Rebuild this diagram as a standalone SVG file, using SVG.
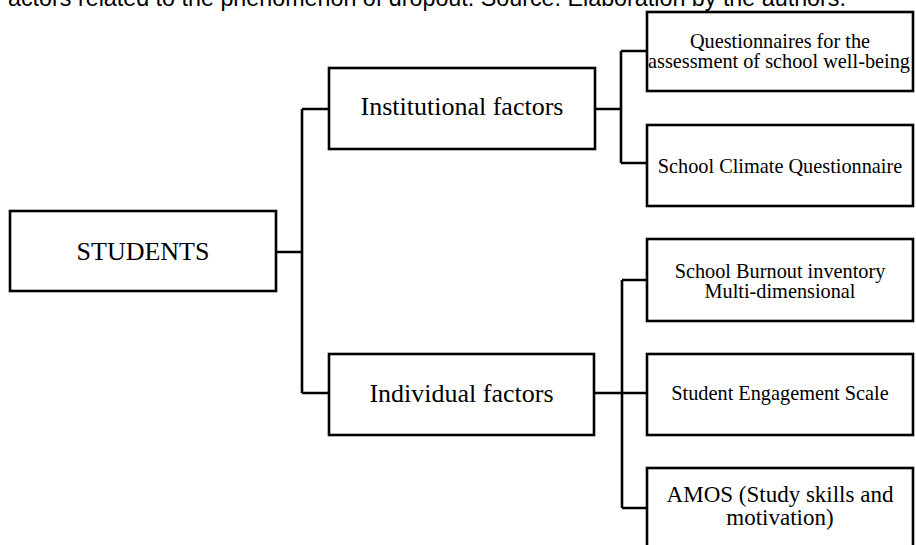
<svg xmlns="http://www.w3.org/2000/svg" width="916" height="545" viewBox="0 0 916 545">
  <style>
    .box { fill: #ffffff; stroke: #000000; stroke-width: 2.6; }
    .wire { fill: none; stroke: #000000; stroke-width: 2.6; }
    .lbl { font-family: "Liberation Serif", "Times New Roman", serif; fill: #000000; text-anchor: middle; }
    .big { font-size: 26px; }
    .small { font-size: 20.3px; }
    .mid { font-size: 23px; }
    .caption { font-family: "Liberation Sans", Arial, sans-serif; font-size: 23.3px; fill: #000000; }
  </style>
  <rect width="916" height="545" fill="#ffffff"/>

  <!-- caption line, partly above the top edge -->
  <text class="caption" x="8" y="5.5">actors related to the phenomenon of dropout. Source: Elaboration by the authors.</text>

  <!-- connectors -->
  <g id="connectors">
    <path class="wire" d="M276 252 H302 M302 109 V393 M302 109 H329 M302 393 H329"/>
    <path class="wire" d="M595 109 H621 M621 51 V163 M621 51 H647 M621 163 H647"/>
    <path class="wire" d="M594 393 H622 M622 280 V508 M622 280 H647 M622 393 H647 M622 508 H647"/>
  </g>

  <g id="students">
    <rect class="box" x="10" y="211" width="266" height="80"/>
    <text class="lbl big" x="143" y="260">STUDENTS</text>
  </g>

  <g id="institutional">
    <rect class="box" x="329" y="68" width="266" height="81"/>
    <text class="lbl big" x="462" y="115">Institutional factors</text>
  </g>

  <g id="individual">
    <rect class="box" x="329" y="354" width="265" height="81"/>
    <text class="lbl big" x="461.5" y="402">Individual factors</text>
  </g>

  <g id="wellbeing">
    <rect class="box" x="647" y="12" width="266" height="79"/>
    <text class="lbl small" x="780" y="47.5">Questionnaires for the</text>
    <text class="lbl small" x="779" y="68">assessment of school well-being</text>
  </g>

  <g id="climate">
    <rect class="box" x="647" y="125" width="266" height="81"/>
    <text class="lbl small" x="780" y="173">School Climate Questionnaire</text>
  </g>

  <g id="burnout">
    <rect class="box" x="647" y="239" width="266" height="82"/>
    <text class="lbl small" x="780" y="277.5">School Burnout inventory</text>
    <text class="lbl small" x="780" y="298">Multi-dimensional</text>
  </g>

  <g id="engagement">
    <rect class="box" x="647" y="354" width="266" height="81"/>
    <text class="lbl small" x="780" y="400">Student Engagement Scale</text>
  </g>

  <g id="amos">
    <rect class="box" x="647" y="468" width="266" height="95"/>
    <text class="lbl mid" x="780" y="502">AMOS (Study skills and</text>
    <text class="lbl mid" x="780" y="525">motivation)</text>
  </g>
</svg>
